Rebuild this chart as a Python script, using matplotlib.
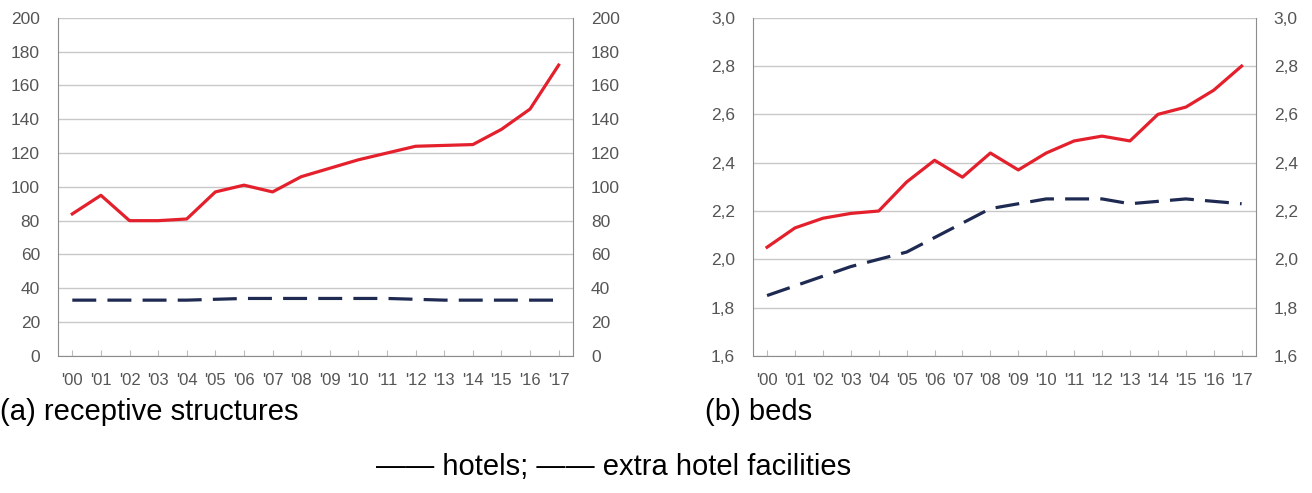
import matplotlib
matplotlib.use("Agg")
import matplotlib.pyplot as plt
from matplotlib.ticker import FuncFormatter

# Data
years = ["'00", "'01", "'02", "'03", "'04", "'05", "'06", "'07", "'08",
         "'09", "'10", "'11", "'12", "'13", "'14", "'15", "'16", "'17"]

structures_hotels = [84, 95, 80, 80, 81, 97, 101, 97, 106, 111, 116, 120,
                     124, 124.5, 125, 134, 146, 172]
structures_extra = [33, 33, 33, 33, 33, 33.5, 34, 34, 34, 34, 34, 34,
                    33.5, 33, 33, 33, 33, 33]

beds_hotels = [2.05, 2.13, 2.17, 2.19, 2.20, 2.32, 2.41, 2.34, 2.44, 2.37,
               2.44, 2.49, 2.51, 2.49, 2.60, 2.63, 2.70, 2.80]
beds_extra = [1.85, 1.89, 1.93, 1.97, 2.00, 2.03, 2.09, 2.15, 2.21, 2.23,
              2.25, 2.25, 2.25, 2.23, 2.24, 2.25, 2.24, 2.23]

red = "#e3202c"
navy = "#1e2a52"
grey = "#8c8c8c"
tick_col = "#555555"

plt.rcParams["font.family"] = ["Liberation Sans", "DejaVu Sans"]

fig = plt.figure(figsize=(13.12, 4.93), dpi=100)


def setup(ax, ylim, yticks, fmt):
    x = range(len(years))
    ax.set_xlim(-0.5, len(years) - 0.5)
    ax.set_ylim(*ylim)
    ax.set_yticks(yticks)
    ax.yaxis.set_major_formatter(FuncFormatter(fmt))
    ax.set_xticks(list(x))
    ax.set_xticklabels(years)
    ax.grid(axis="y", color="#c8c8c8", linewidth=1)
    ax.set_axisbelow(True)
    for s in ["left", "right", "bottom"]:
        ax.spines[s].set_color(grey)
    ax.spines["top"].set_visible(False)
    ax.tick_params(axis="x", direction="in", length=4, color="#bbbbbb",
                   labelsize=12, labelcolor=tick_col, pad=12)
    ax.tick_params(axis="y", length=0, labelsize=12.5, labelcolor=tick_col, pad=13)
    ax2 = ax.twinx()
    ax2.set_ylim(*ylim)
    ax2.set_yticks(yticks)
    ax2.yaxis.set_major_formatter(FuncFormatter(fmt))
    ax2.tick_params(axis="y", length=0, labelsize=12.5, labelcolor=tick_col, pad=13)
    for s in ax2.spines.values():
        s.set_visible(False)
    return x


int_fmt = lambda v, p: f"{v:.0f}"
dec_fmt = lambda v, p: f"{v:.1f}".replace(".", ",")

ax1 = fig.add_axes([0.0442, 0.278, 0.3925, 0.686])
x = setup(ax1, (0, 200), range(0, 201, 20), int_fmt)
ax1.plot(x, structures_hotels, color=red, linewidth=2.3)
ax1.plot(x, structures_extra, color=navy, linewidth=2.3, dashes=(7.5, 3.5))

ax2 = fig.add_axes([0.574, 0.278, 0.383, 0.686])
x = setup(ax2, (1.6, 3.0), [1.6, 1.8, 2.0, 2.2, 2.4, 2.6, 2.8, 3.0], dec_fmt)
ax2.plot(x, beds_hotels, color=red, linewidth=2.3)
ax2.plot(x, beds_extra, color=navy, linewidth=2.3, dashes=(7.5, 3.5))

fig.text(0.0, 0.164, "(a) receptive structures", fontsize=21, va="center")
fig.text(0.537, 0.164, "(b) beds", fontsize=21, va="center")
fig.text(0.468, 0.052, "\u2014\u2014 hotels; \u2014\u2014 extra hotel facilities",
         fontsize=21, ha="center", va="center")

fig.savefig("out.png", dpi=100)
